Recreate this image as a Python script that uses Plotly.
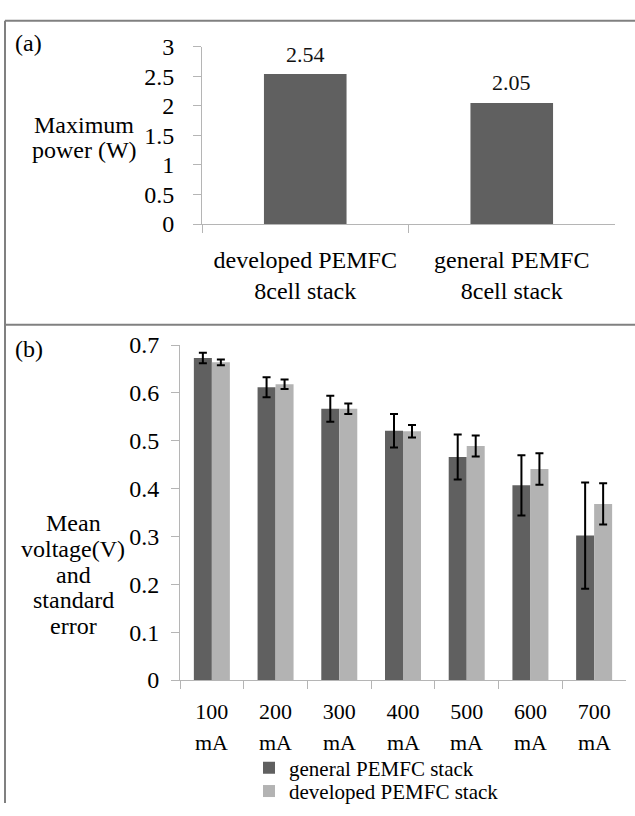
import plotly.graph_objects as go

# ---------------- data ----------------
stack_types = ["developed PEMFC<br>8cell stack", "general PEMFC<br>8cell stack"]
max_power_w = [2.54, 2.05]

currents = ["100 mA", "200 mA", "300 mA", "400 mA", "500 mA", "600 mA", "700 mA"]
current_values = ["100", "200", "300", "400", "500", "600", "700"]
current_unit = "mA"

general_mean = [0.673, 0.612, 0.567, 0.521, 0.466, 0.407, 0.302]
general_err = [0.011, 0.021, 0.027, 0.035, 0.047, 0.063, 0.111]
developed_mean = [0.664, 0.618, 0.567, 0.520, 0.489, 0.441, 0.368]
developed_err = [0.006, 0.010, 0.011, 0.013, 0.022, 0.033, 0.043]

power_ticks = [0, 0.5, 1, 1.5, 2, 2.5, 3]
voltage_ticks = [0, 0.1, 0.2, 0.3, 0.4, 0.5, 0.6, 0.7]

# ---------------- style ----------------
W, H = 635, 816
FONT = "Liberation Serif, Times New Roman, Tinos, serif"
DARK = "#606060"
LIGHT = "#b3b3b3"
AXIS = "#b5b5b5"
BORDER = "#808080"
FS = 24
FS_B = 22   # bottom category labels of panel (b)
FS_LEG = 21  # legend of panel (b)


def px(x):
    return x / W


def py(y):
    return 1 - y / H


fig = go.Figure()

# (a) maximum power
fig.add_trace(go.Bar(
    x=stack_types, y=max_power_w, width=0.4,
    marker=dict(color=DARK, line=dict(width=0)),
    showlegend=False, xaxis="x", yaxis="y",
))

# (b) mean voltage with standard error
fig.add_trace(go.Bar(
    x=currents, y=general_mean, name="general PEMFC stack",
    marker=dict(color=DARK, line=dict(width=0)),
    error_y=dict(type="data", array=general_err, color="#000000", thickness=2, width=4),
    xaxis="x2", yaxis="y2", legend="legend",
))
fig.add_trace(go.Bar(
    x=currents, y=developed_mean, name="developed PEMFC stack",
    marker=dict(color=LIGHT, line=dict(width=0)),
    error_y=dict(type="data", array=developed_err, color="#000000", thickness=2, width=4),
    xaxis="x2", yaxis="y2", legend="legend2",
))

axis_common = dict(
    showline=True, linecolor=AXIS, linewidth=1, showgrid=False, zeroline=False,
    ticks="outside", ticklen=8, tickcolor=AXIS, tickwidth=1,
    fixedrange=True,
)
tickfont = dict(family=FONT, size=FS, color="#000000")

legend_common = dict(
    xanchor="left", yanchor="middle", orientation="v",
    bgcolor="rgba(0,0,0,0)", borderwidth=0,
    font=dict(family=FONT, size=FS_LEG, color="#000000"),
)

fig.update_layout(
    width=W, height=H,
    margin=dict(l=0, r=0, t=0, b=0),
    paper_bgcolor="white", plot_bgcolor="white",
    font=dict(family=FONT, size=FS, color="#000000"),
    barmode="group", bargap=0.435, bargroupgap=0,
    xaxis=dict(domain=[px(202), px(615)], anchor="y", type="category",
               tickson="boundaries", ticklabelstandoff=14, tickfont=tickfont, **axis_common),
    yaxis=dict(domain=[py(218), py(35)], anchor="x", range=[0, 3],
               tickvals=power_ticks, ticklabelstandoff=14, tickfont=tickfont, **axis_common),
    xaxis2=dict(domain=[px(180), px(626)], anchor="y2", type="category",
                tickson="boundaries", tickvals=currents, ticktext=current_values,
                ticklabelstandoff=12, tickfont=dict(family=FONT, size=FS_B, color="#000000"),
                **axis_common),
    yaxis2=dict(domain=[py(689), py(343)], anchor="x2", range=[0, 0.7],
                tickvals=voltage_ticks, ticklabelstandoff=7, tickfont=tickfont, **axis_common),
    legend=dict(x=px(249), y=py(780), **legend_common),
    legend2=dict(x=px(249), y=py(804), **legend_common),
)

# Panel frames
shapes = [
    dict(type="line", xref="paper", yref="paper", x0=px(5), x1=1.0, y0=py(8), y1=py(8),
         line=dict(color=BORDER, width=2)),
    dict(type="line", xref="paper", yref="paper", x0=px(5), x1=px(5), y0=py(8), y1=0,
         line=dict(color=BORDER, width=2)),
    dict(type="line", xref="paper", yref="paper", x0=px(5), x1=1.0, y0=py(322), y1=py(322),
         line=dict(color=BORDER, width=2)),
]
fig.update_layout(shapes=shapes)

annots = []

# value labels above the bars of panel (a), positioned by the data
for cat, val in zip(stack_types, max_power_w):
    annots.append(dict(text=f"{val:.2f}", x=cat, y=val, xref="x", yref="y",
                       showarrow=False, xanchor="center", yanchor="middle", yshift=20,
                       font=dict(family=FONT, size=22, color="#111111")))

# unit line under each current category (tight second line of the tick label)
for cat in currents:
    annots.append(dict(text=current_unit, x=cat, y=py(753), xref="x2", yref="paper",
                       showarrow=False, xanchor="center", yanchor="middle", borderpad=0,
                       font=dict(family=FONT, size=FS_B, color="#000000")))


def text_at(t, x, y, size=FS):
    annots.append(dict(text=t, x=px(x), y=py(y), xref="paper", yref="paper",
                       showarrow=False, xanchor="center", yanchor="middle", borderpad=0,
                       font=dict(family=FONT, size=size, color="#000000")))


text_at("(a)", 28, 31)
text_at("(b)", 29, 347)
# y-axis titles, one line per annotation for tight line spacing
for t, y in [("Maximum", 116), ("power (W)", 141)]:
    text_at(t, 84, y)
for t, y in [("Mean", 527), ("voltage(V)", 554), ("and", 580), ("standard", 606), ("error", 633)]:
    text_at(t, 73, y)

fig.update_layout(annotations=annots)

fig.write_html(
    "out.html",
    config={"displayModeBar": False},
    post_script="document.body.style.margin='0';document.body.style.overflow='hidden';",
)
